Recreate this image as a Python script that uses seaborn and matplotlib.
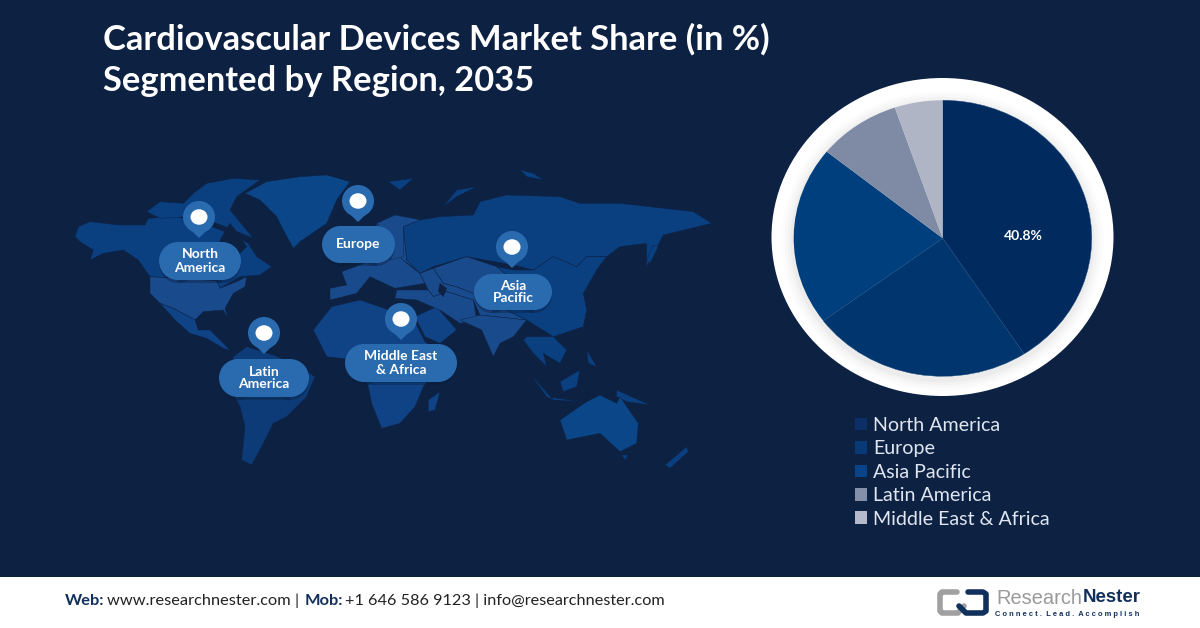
import matplotlib
matplotlib.use('Agg')
import matplotlib.pyplot as plt
import seaborn as sns
from matplotlib.patches import Ellipse, Polygon, Rectangle, Circle

# chart values
regions = ['North America', 'Europe', 'Asia Pacific', 'Latin America', 'Middle East & Africa']
shares = [40.8, 24.0, 21.0, 9.0, 5.2]
pie_colors = ['#012a5e', '#01356d', '#003f7e', '#7f8ba5', '#b0b5c6']
legend_colors = ['#0b3068', '#083a78', '#0a4488', '#8490aa', '#b4bacb']
title_lines = ['Cardiovascular Devices Market Share (in %)', 'Segmented by Region, 2035']
pin_labels = ['North\nAmerica', 'Europe', 'Latin\nAmerica', 'Middle East\n& Africa', 'Asia\nPacific']

BG = '#0d2143'
PILL = '#2a6bb0'
DARK = '#0a3f80'
MID = '#194a8b'
MID2 = '#104386'
FADED = '#0c3b78'

sns.set_theme(style='white')
plt.rcParams['font.family'] = ['Lato', 'DejaVu Sans']


def left(points):
    return [(60 + x / 3, 160 + y / 3) for x, y in points]


def right(points):
    return [(300 + x / 3, 160 + y / 3) for x, y in points]


# rough world map outline
map_shapes = [
    (left([(45, 230), (55, 200), (90, 185), (175, 195), (255, 195), (265, 175), (350, 170), (430, 190), (520, 225), (565, 250), (590, 290), (635, 320), (600, 345), (540, 350), (480, 385), (470, 360), (270, 350), (235, 300), (190, 270), (130, 280), (90, 300), (100, 270), (60, 245)]), DARK),
    (left([(260, 155), (300, 125), (370, 130), (400, 100), (440, 70), (520, 55), (600, 60), (530, 110), (510, 150), (580, 235), (520, 210), (470, 190), (380, 170), (300, 175)]), DARK),
    (left([(480, 240), (510, 190), (530, 215), (560, 260), (530, 290), (490, 280)]), BG),
    (left([(555, 100), (620, 65), (720, 50), (800, 45), (870, 65), (830, 120), (800, 190), (720, 245), (700, 265), (670, 210), (650, 170), (600, 120)]), '#0a4688'),
    (left([(270, 350), (470, 362), (480, 385), (530, 365), (560, 350), (555, 380), (520, 400), (495, 445), (505, 475), (490, 450), (430, 455), (405, 480), (340, 445), (300, 430), (270, 400)]), MID),
    (left([(300, 430), (340, 445), (405, 480), (415, 510), (450, 510), (470, 530), (510, 570), (490, 565), (440, 535), (390, 520), (345, 480)]), MID2),
    (left([(520, 590), (560, 560), (640, 585), (700, 610), (765, 650), (740, 710), (680, 770), (640, 790), (610, 850), (575, 915), (545, 900), (555, 800), (540, 740), (510, 680)]), FADED),
    (right([(40, 510), (95, 440), (180, 420), (340, 475), (375, 545), (440, 590), (370, 680), (345, 740), (300, 790), (245, 805), (215, 730), (205, 680), (170, 600), (80, 590)]), MID2),
    (right([(385, 720), (420, 695), (405, 750), (385, 755)]), MID2),
    (right([(345, 470), (410, 440), (470, 510), (420, 550), (375, 530)]), MID2),
    (right([(220, 300), (230, 190), (310, 200), (320, 300), (360, 340), (290, 285)]), MID),
    (right([(90, 385), (140, 375), (125, 335), (220, 300), (290, 280), (320, 310), (360, 340), (375, 370), (285, 385), (210, 350), (170, 400), (90, 420)]), MID),
    (right([(230, 190), (285, 165), (365, 180), (310, 200), (310, 290), (270, 300), (280, 240)]), MID),
    (right([(310, 200), (360, 180), (420, 170), (520, 165), (540, 125), (620, 105), (780, 110), (840, 130), (960, 130), (1180, 155), (1235, 190), (1090, 225), (1040, 320), (1040, 250), (960, 260), (920, 290), (860, 290), (830, 320), (760, 290), (700, 330), (640, 315), (500, 290), (400, 320), (360, 340), (320, 300)]), DARK),
    (right([(400, 325), (430, 370), (470, 380), (520, 400), (620, 345), (620, 450), (680, 480), (540, 465), (520, 420), (440, 395), (400, 410), (385, 390), (375, 370), (360, 340)]), MID),
    (right([(400, 325), (500, 290), (590, 320), (620, 345), (520, 400), (470, 380), (430, 370)]), MID),
    (right([(290, 390), (385, 390), (400, 410), (440, 395), (520, 420), (530, 480), (480, 490), (420, 450), (350, 420), (285, 415)]), MID),
    (right([(420, 370), (440, 385), (430, 410), (415, 395)]), BG),
    (right([(480, 480), (540, 465), (680, 480), (640, 530), (600, 550), (580, 590), (545, 510)]), MID),
    (right([(590, 320), (640, 330), (700, 330), (760, 290), (830, 320), (860, 290), (920, 290), (890, 330), (850, 400), (860, 450), (850, 500), (760, 530), (680, 480), (620, 450), (620, 345)]), DARK),
    (right([(680, 530), (760, 530), (800, 570), (780, 610), (730, 580), (740, 620), (700, 580), (670, 540)]), DARK),
    (right([(690, 640), (760, 720), (740, 710)]), DARK),
    (right([(780, 665), (840, 630), (830, 680), (790, 695)]), DARK),
    (right([(950, 690), (1050, 735), (980, 725), (950, 710)]), DARK),
    (right([(755, 712), (840, 725), (760, 720)]), DARK),
    (right([(860, 570), (890, 620), (865, 610)]), DARK),
    (right([(780, 780), (860, 725), (900, 705), (950, 730), (960, 710), (1015, 790), (1010, 850), (960, 875), (900, 820), (800, 840)]), '#0a4688'),
    (right([(1095, 915), (1160, 860), (1165, 875), (1110, 925)]), DARK),
    (right([(965, 885), (985, 885), (975, 900)]), DARK),
    (right([(1040, 300), (1060, 255), (1075, 260), (1050, 310)]), DARK),
    (right([(265, 65), (340, 55), (300, 90)]), DARK),
    (right([(430, 140), (470, 90), (530, 80), (470, 110)]), DARK),
    (right([(660, 30), (700, 40), (730, 60), (680, 50)]), DARK),
]

# pin centre x, y and pill left, right, top, bottom
pins = [
    (199, 217, 159, 241, 242, 280),
    (358, 201, 322, 395, 226, 263),
    (264, 333, 219, 309, 359, 397),
    (401, 319, 345, 457, 344, 382),
    (512, 247, 474, 552, 274, 310),
]


def draw_pill(axis, x0, x1, y0, y1, color, zorder, alpha=1.0):
    r = (y1 - y0) / 2
    axis.add_patch(Rectangle((x0 + r, y0), x1 - x0 - 2 * r, y1 - y0, facecolor=color, edgecolor='none', alpha=alpha, zorder=zorder))
    axis.add_patch(Circle((x0 + r, y0 + r), r, facecolor=color, edgecolor='none', alpha=alpha, zorder=zorder))
    axis.add_patch(Circle((x1 - r, y0 + r), r, facecolor=color, edgecolor='none', alpha=alpha, zorder=zorder))


fig = plt.figure(figsize=(12, 6.28), dpi=100, facecolor=BG)

# full figure layer in pixel coordinates
bg = fig.add_axes([0, 0, 1, 1])
bg.set_xlim(0, 1200)
bg.set_ylim(628, 0)
bg.axis('off')

for points, color in map_shapes:
    bg.add_patch(Polygon(points, closed=True, facecolor=color, edgecolor=BG, linewidth=0.3, zorder=1))

for (cx, cy, x0, x1, y0, y1), label in zip(pins, pin_labels):
    draw_pill(bg, x0, x1, y0 + 3, y1 + 3, '#0a1c3a', 2, alpha=0.35)
    draw_pill(bg, x0, x1, y0, y1, PILL, 3)
    bg.add_patch(Polygon([(cx - 14.5, cy + 7), (cx, cy + 21), (cx + 14.5, cy + 7)], facecolor=PILL, edgecolor='none', zorder=3))
    bg.add_patch(Circle((cx, cy), 16, facecolor=PILL, edgecolor='none', zorder=3))
    bg.add_patch(Ellipse((cx, cy), 17, 15.5, facecolor='white', edgecolor='none', zorder=4))
    bg.text((x0 + x1) / 2, (y0 + y1) / 2, label, color='white', fontsize=10, fontweight='bold',
            ha='center', va='center', linespacing=1.1, zorder=5)

# white ring behind the pie, soft shadow towards the bottom
bg.add_patch(Ellipse((942.5, 237), 342, 318, facecolor='white', edgecolor='none', zorder=1))
for w, shade in [(322, '#fcfcfc'), (316, '#f8f8f8'), (310, '#f3f3f3'), (304, '#ececec')]:
    bg.add_patch(Ellipse((942.5, 241), w, w * 0.93, facecolor=shade, edgecolor='none', zorder=1))

bg.text(103, 39, title_lines[0], color='white', fontsize=24.85, fontweight='bold', ha='left', va='center')
bg.text(103, 81, title_lines[1], color='white', fontsize=24.85, fontweight='bold', ha='left', va='center')

# footer
bg.add_patch(Rectangle((0, 577), 1200, 51, facecolor='white', edgecolor='none', zorder=1))
foot_y = 601
bg.text(65, foot_y, 'Web:', color='#12305c', fontsize=11.75, fontweight='bold', va='center', zorder=2)
bg.text(107, foot_y, 'www.researchnester.com |', color='#222222', fontsize=11.75, va='center', zorder=2)
bg.text(305, foot_y, 'Mob:', color='#12305c', fontsize=11.75, fontweight='bold', va='center', zorder=2)
bg.text(345, foot_y, '+1 646 586 9123 | info@researchnester.com', color='#222222', fontsize=11.7, va='center', zorder=2)

# logo
bg.plot([957, 942, 940, 940, 942, 958, 964], [592, 592, 594, 611, 613, 613, 606], color='#a0a0a0', lw=4,
        solid_joinstyle='round', solid_capstyle='round', zorder=2)
bg.plot([968, 983, 986, 986, 983, 966, 959], [592, 592, 594, 611, 613, 613, 606], color='#12305c', lw=4,
        solid_joinstyle='round', solid_capstyle='round', zorder=2)
bg.text(996, 598, 'Research', color='#9a9a9a', fontsize=14.4, family=['Liberation Sans'], va='center', zorder=2)
bg.text(1083, 598, 'Nester', color='#12305c', fontsize=13.4, fontweight='bold', family=['Liberation Sans'], va='center', zorder=2)
bg.text(995, 614, 'C o n n e c t .  L e a d .  A c c o m p l i s h', color='#12305c', fontsize=5.4, fontweight='bold',
        family=['Liberation Sans'], va='center', zorder=2)

# pie, squashed a little as in the picture
pie_cx, pie_cy, rx, ry = 942.7, 238.3, 149, 138
ax = fig.add_axes([(pie_cx - rx) / 1200, 1 - (pie_cy + ry) / 628, 2 * rx / 1200, 2 * ry / 628])
ax.patch.set_alpha(0)
wedges, _ = ax.pie(shares, colors=sns.color_palette(pie_colors), startangle=90, counterclock=False, radius=1,
                   wedgeprops={'linewidth': 0.3, 'edgecolor': '#1c4a80'})
# only the blue slices have the faint seam
for wedge in wedges[2:]:
    wedge.set_edgecolor('none')
ax.set_aspect('auto')
ax.set_xlim(-1, 1)
ax.set_ylim(-1, 1)
ax.text(0.54, 0.02, f'{shares[0]}%', color='white', fontsize=10, fontweight='bold', ha='center', va='center')

# legend uses its own slightly lighter swatches
handles = [Rectangle((0, 0), 1, 1, facecolor=c, edgecolor='none') for c in legend_colors]
fig.legend(handles, regions, loc='upper left', bbox_to_anchor=(849 / 1200, 1 - 411 / 628), frameon=False,
           fontsize=14.1, labelcolor='#dfe6f0', handlelength=0.62, handleheight=0.62, handletextpad=0.32,
           labelspacing=0.33, borderpad=0, borderaxespad=0.3)

fig.savefig('out.png', dpi=100, facecolor=BG)
